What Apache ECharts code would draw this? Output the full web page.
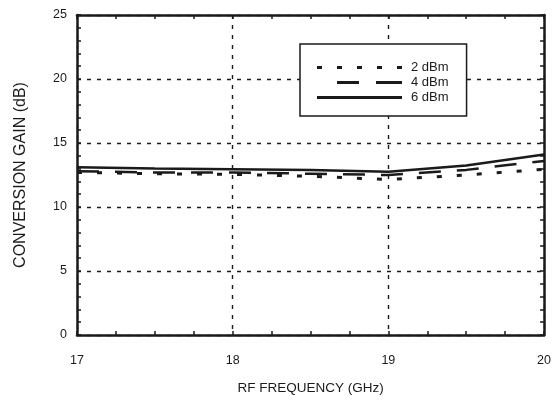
<!DOCTYPE html>
<html>
<head>
<meta charset="utf-8">
<script src="https://cdn.jsdelivr.net/npm/echarts@6/dist/echarts.min.js"></script>
<style>
  html, body { margin: 0; padding: 0; background: #fff; }
  #chart { width: 554px; height: 400px; }
</style>
</head>
<body>
<div id="chart"></div>
<script>
// RF frequency sample points (GHz)
const freqGHz = [17, 17.5, 18, 18.5, 19, 19.5, 20];
// Conversion gain (dB) per LO drive level
const gain2dBm = [12.7, 12.6, 12.55, 12.4, 12.15, 12.5, 12.95];
const gain4dBm = [12.8, 12.7, 12.7, 12.6, 12.5, 12.9, 13.6];
const gain6dBm = [13.1, 13.0, 12.95, 12.9, 12.75, 13.25, 14.1];
const seriesNames = ['2 dBm', '4 dBm', '6 dBm'];

const FONT = 'Liberation Sans, Arial, sans-serif';
const INK = '#1a1a1a';

// stroke styles of the three curves
const styles = [
  { color: INK, width: 3, type: [5, 15] },
  { color: INK, width: 2.5, type: [22, 16] },
  { color: INK, width: 2.5, type: 'solid' }
];

// legend keys drawn as dash segments on an 85 x 3 strip
const seg = (x, w) => `M${x},0h${w}v3h-${w}z`;
const legendIcons = [
  'path://' + [0, 20, 40, 60, 80].map(x => seg(x, 5)).join(''),
  'path://M0,1.5h0.01v0.01h-0.01z' + seg(20, 22) + seg(59, 26),
  'path://' + seg(0, 85)
];

function pairs(ys) { return freqGHz.map((x, i) => [x, ys[i]]); }

const frameLine = { show: true, onZero: false, lineStyle: { color: INK, width: 2.5 } };
const tickIn = { show: true, inside: true, length: 4, lineStyle: { color: INK, width: 1.5 } };
const minorIn = n => ({ show: true, splitNumber: n, length: 4, lineStyle: { color: INK, width: 1.5 } });
const gridDash = { show: true, lineStyle: { color: INK, width: 1.4, type: [4, 6] } };

const chart = echarts.init(document.getElementById('chart'));
chart.setOption({
  animation: false,
  backgroundColor: '#fff',
  grid: { left: 77, right: 9, top: 15, bottom: 65 },
  legend: {
    orient: 'vertical',
    left: 300, top: 44,
    padding: [17, 18, 12, 17],
    backgroundColor: '#fff',
    borderColor: INK, borderWidth: 1.5,
    itemWidth: 85, itemHeight: 3, itemGap: 2,
    itemStyle: { color: INK, borderWidth: 0 },
    lineStyle: { width: 0 },
    textStyle: { fontFamily: FONT, fontSize: 13, color: INK, padding: [0, 0, 0, 4] },
    data: seriesNames.map((name, i) => ({ name, icon: legendIcons[i] }))
  },
  xAxis: [
    {
      type: 'value', min: 17, max: 20, interval: 1,
      name: 'RF FREQUENCY (GHz)', nameLocation: 'middle', nameGap: 46,
      nameTextStyle: { fontFamily: FONT, fontSize: 13.5, color: INK },
      axisLine: frameLine, axisTick: tickIn, minorTick: minorIn(4),
      axisLabel: { fontFamily: FONT, fontSize: 12.5, color: INK, margin: 19 },
      splitLine: gridDash
    },
    {
      type: 'value', position: 'top', min: 17, max: 20, interval: 1,
      axisLine: frameLine, axisTick: tickIn, minorTick: minorIn(4),
      axisLabel: { show: false }, splitLine: { show: false }
    }
  ],
  yAxis: [
    {
      type: 'value', min: 0, max: 25, interval: 5,
      name: 'CONVERSION GAIN (dB)', nameLocation: 'middle', nameGap: 48,
      nameTextStyle: { fontFamily: FONT, fontSize: 16, color: INK },
      axisLine: frameLine, axisTick: tickIn, minorTick: minorIn(5),
      axisLabel: { fontFamily: FONT, fontSize: 12.5, color: INK, margin: 10 },
      splitLine: gridDash
    },
    {
      type: 'value', position: 'right', min: 0, max: 25, interval: 5,
      axisLine: frameLine, axisTick: tickIn, minorTick: minorIn(5),
      axisLabel: { show: false }, splitLine: { show: false }
    }
  ],
  series: [gain2dBm, gain4dBm, gain6dBm].map((ys, i) => ({
    name: seriesNames[i], type: 'line', symbol: 'none', data: pairs(ys),
    lineStyle: styles[i], itemStyle: { color: INK }
  }))
});
</script>
</body>
</html>
